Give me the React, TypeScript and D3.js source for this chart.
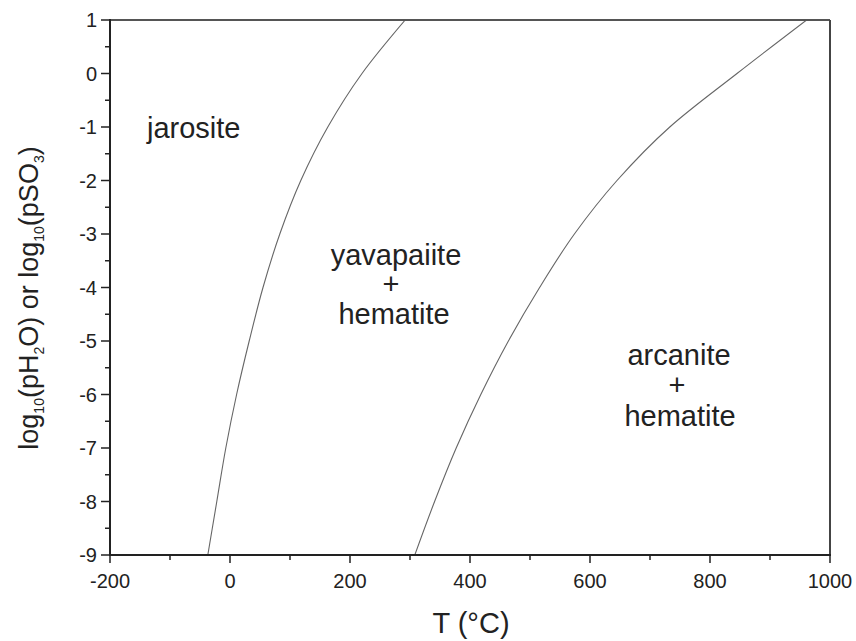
import * as d3 from 'd3';

// phase boundaries: T (°C) at each log10 p
const logP = [-9, -8, -7, -6, -5, -4, -3, -2, -1, 0, 1];
const jarositeT = [-37, -22, -7, 11, 32, 55, 83, 118, 163, 220, 292];
const arcaniteT = [308, 341, 377, 418, 464, 516, 574, 645, 733, 845, 961];

const xTicks = [-200, 0, 200, 400, 600, 800, 1000];
const xMinor = [-100, 100, 300, 500, 700, 900];
const yTicks = [1, 0, -1, -2, -3, -4, -5, -6, -7, -8, -9];
const yMinor = [0.5, -0.5, -1.5, -2.5, -3.5, -4.5, -5.5, -6.5, -7.5, -8.5];

const font = "Arial, 'Liberation Sans', sans-serif";

export default function App() {
  const W = 856;
  const H = 641;
  const left = 110, right = 830, top = 20, bottom = 555;

  const x = d3.scaleLinear().domain([-200, 1000]).range([left, right]);
  const y = d3.scaleLinear().domain([-9, 1]).range([bottom, top]);

  const line = d3
    .line<[number, number]>()
    .x((d) => x(d[0]))
    .y((d) => y(d[1]))
    .curve(d3.curveMonotoneY);

  const c1 = jarositeT.map((t, i) => [t, logP[i]] as [number, number]);
  const c2 = arcaniteT.map((t, i) => [t, logP[i]] as [number, number]);

  return (
    <svg
      width={W}
      height={H}
      style={{ position: 'absolute', left: 0, top: 0, background: '#fff' }}
      fontFamily={font}
    >
      <defs>
        <clipPath id="plot">
          <rect x={left} y={top} width={right - left} height={bottom - top} />
        </clipPath>
      </defs>

      <g clipPath="url(#plot)" fill="none" stroke="#666" strokeWidth={1.1}>
        <path d={line(c1) || ''} />
        <path d={line(c2) || ''} />
      </g>

      {/* frame */}
      <line x1={left} x2={right} y1={top} y2={top} stroke="#555" strokeWidth={2} />
      <line x1={right} x2={right} y1={top} y2={bottom} stroke="#444" strokeWidth={2} />
      <line x1={left} x2={right + 1} y1={bottom} y2={bottom} stroke="#222" strokeWidth={2} />
      <line x1={left} x2={left} y1={top - 1} y2={bottom + 1} stroke="#222" strokeWidth={2} />

      {/* x axis */}
      {xTicks.map((t) => (
        <g key={'x' + t}>
          <line x1={x(t)} x2={x(t)} y1={bottom} y2={bottom + 8} stroke="#222" strokeWidth={1.5} />
          <text x={x(t)} y={588} textAnchor="middle" fontSize={20} fill="#222">
            {t}
          </text>
        </g>
      ))}
      {xMinor.map((t) => (
        <line key={'xm' + t} x1={x(t)} x2={x(t)} y1={bottom} y2={bottom + 5} stroke="#222" strokeWidth={1.5} />
      ))}

      {/* y axis */}
      {yTicks.map((t) => (
        <g key={'y' + t}>
          <line x1={left - 9} x2={left} y1={y(t)} y2={y(t)} stroke="#222" strokeWidth={1.5} />
          <text x={97} y={y(t) + 7} textAnchor="end" fontSize={20} fill="#222">
            {t}
          </text>
        </g>
      ))}
      {yMinor.map((t) => (
        <line key={'ym' + t} x1={left - 5} x2={left} y1={y(t)} y2={y(t)} stroke="#222" strokeWidth={1.5} />
      ))}

      {/* axis titles */}
      <text x={471} y={633} textAnchor="middle" fontSize={29} fill="#222">
        T (°C)
      </text>
      <text
        transform={`translate(38, 298) rotate(-90)`}
        textAnchor="middle"
        fontSize={27}
        fill="#222"
      >
        log<tspan fontSize={14} dy={6}>10</tspan>
        <tspan dy={-6}>(pH</tspan>
        <tspan fontSize={14} dy={6}>2</tspan>
        <tspan dy={-6}>O) or log</tspan>
        <tspan fontSize={14} dy={6}>10</tspan>
        <tspan dy={-6}>(pSO</tspan>
        <tspan fontSize={14} dy={6}>3</tspan>
        <tspan dy={-6}>)</tspan>
      </text>

      {/* region labels */}
      <g fontSize={29} fill="#222" textAnchor="middle">
        <text x={147} y={138} textAnchor="start">jarosite</text>
        <text x={396} y={265}>yavapaiite</text>
        <text x={391} y={294}>+</text>
        <text x={394} y={324}>hematite</text>
        <text x={679} y={365}>arcanite</text>
        <text x={677} y={395}>+</text>
        <text x={680} y={426}>hematite</text>
      </g>
    </svg>
  );
}
